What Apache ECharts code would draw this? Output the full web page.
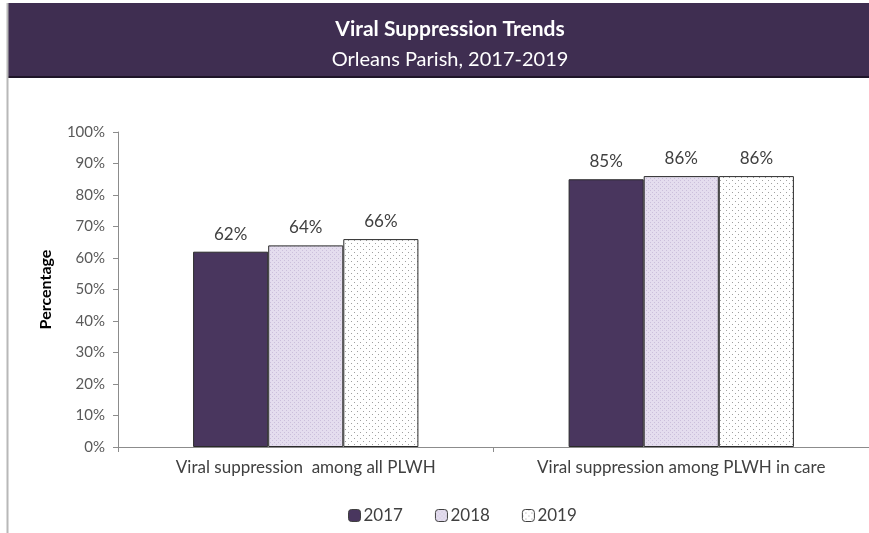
<!DOCTYPE html>
<html>
<head>
<meta charset="utf-8">
<script src="https://cdn.jsdelivr.net/npm/echarts@6/dist/echarts.min.js"></script>
<style>
html,body{margin:0;padding:0;background:#fff;}
#c{width:869px;height:533px;}
</style>
</head>
<body>
<div id="c"></div>
<script>
const categories = ['Viral suppression  among all PLWH', 'Viral suppression among PLWH in care'];
const years = ['2017', '2018', '2019'];
const values2017 = [62, 85];
const values2018 = [64, 86];
const values2019 = [66, 86];
const yTicks = [0, 10, 20, 30, 40, 50, 60, 70, 80, 90, 100];

function makePattern(bg, dot, step, size, offsetRows) {
  const c = document.createElement('canvas');
  c.width = step * 2; c.height = step * 2;
  const g = c.getContext('2d');
  g.fillStyle = bg; g.fillRect(0, 0, c.width, c.height);
  g.fillStyle = dot;
  g.fillRect(0, 0, size, size);
  if (offsetRows) g.fillRect(step, step, size, size);
  else { g.fillRect(step, 0, size, size); g.fillRect(0, step, size, size); g.fillRect(step, step, size, size); }
  return c;
}
const pat2018 = makePattern('#e4ddee', '#cbbfdb', 2, 1, true);
const pat2019c = document.createElement('canvas');
pat2019c.width = 6; pat2019c.height = 6;
(function(){
  const g = pat2019c.getContext('2d');
  g.fillStyle = '#ffffff'; g.fillRect(0,0,6,6);
  g.fillStyle = '#a0a0a0'; g.fillRect(0,0,1,1); g.fillRect(3,3,1,1);
})();

const colors = ['#49365e', {image: pat2018, repeat: 'repeat'}, {image: pat2019c, repeat: 'repeat'}];
const seriesData = [values2017, values2018, values2019];
const font = 'Lato, "Open Sans", sans-serif';

const chart = echarts.init(document.getElementById('c'));
chart.setOption({
  animation: false,
  backgroundColor: '#ffffff',
  graphic: [
    {type: 'rect', shape: {x: 7, y: 3, width: 862, height: 75}, style: {fill: '#3f2e51'}, z: 0},
    {type: 'line', shape: {x1: 7, y1: 77, x2: 869, y2: 77}, style: {stroke: '#1e1528', lineWidth: 2}, z: 1},
    {type: 'line', shape: {x1: 7.5, y1: 3, x2: 7.5, y2: 533}, style: {stroke: '#b8b8b8', lineWidth: 2}, z: 1}
  ],
  title: {
    text: 'Viral Suppression Trends',
    subtext: 'Orleans Parish, 2017-2019',
    left: 445, textAlign: 'center', top: 14,
    itemGap: 10,
    textStyle: {color: '#ffffff', fontSize: 21, fontWeight: 'bold', fontFamily: font},
    subtextStyle: {color: '#ffffff', fontSize: 20, fontFamily: font},
    z: 5
  },
  legend: {
    data: years,
    top: 502, left: 343,
    itemWidth: 12, itemHeight: 12, itemGap: 32,
    textStyle: {color: '#404040', fontSize: 17, fontFamily: font, padding: [0,0,0,-2]},
    itemStyle: {borderColor: '#404040', borderWidth: 1}
  },
  grid: {left: 118, right: 0, top: 132, bottom: 86, containLabel: false},
  xAxis: {
    type: 'category', data: categories,
    axisLine: {lineStyle: {color: '#8c8c8c', width: 1}},
    axisTick: {show: true, alignWithLabel: false, length: 5, lineStyle: {color: '#8c8c8c'}},
    axisLabel: {color: '#404040', fontSize: 17, fontFamily: font, margin: 12}
  },
  yAxis: {
    type: 'value', min: yTicks[0], max: yTicks[yTicks.length-1], interval: 10,
    name: 'Percentage', nameLocation: 'middle', nameGap: 64, nameRotate: 90,
    nameTextStyle: {color: '#000', fontSize: 16, fontWeight: 'bold', fontFamily: font},
    axisLine: {show: true, lineStyle: {color: '#8c8c8c'}},
    axisTick: {show: true, length: 5, lineStyle: {color: '#8c8c8c'}},
    splitLine: {show: false},
    axisLabel: {color: '#595959', fontSize: 15, fontFamily: font, margin: 13, formatter: '{value}%'}
  },
  series: years.map((y, i) => ({
    name: y, type: 'bar', data: seriesData[i],
    barGap: '0%', barCategoryGap: '40%',
    itemStyle: {color: colors[i], borderColor: '#2a2a2a', borderWidth: 1},
    label: {show: true, position: 'top', distance: 9, formatter: '{c}%', color: '#404040', fontSize: 17, fontFamily: font}
  }))
});
</script>
</body>
</html>
